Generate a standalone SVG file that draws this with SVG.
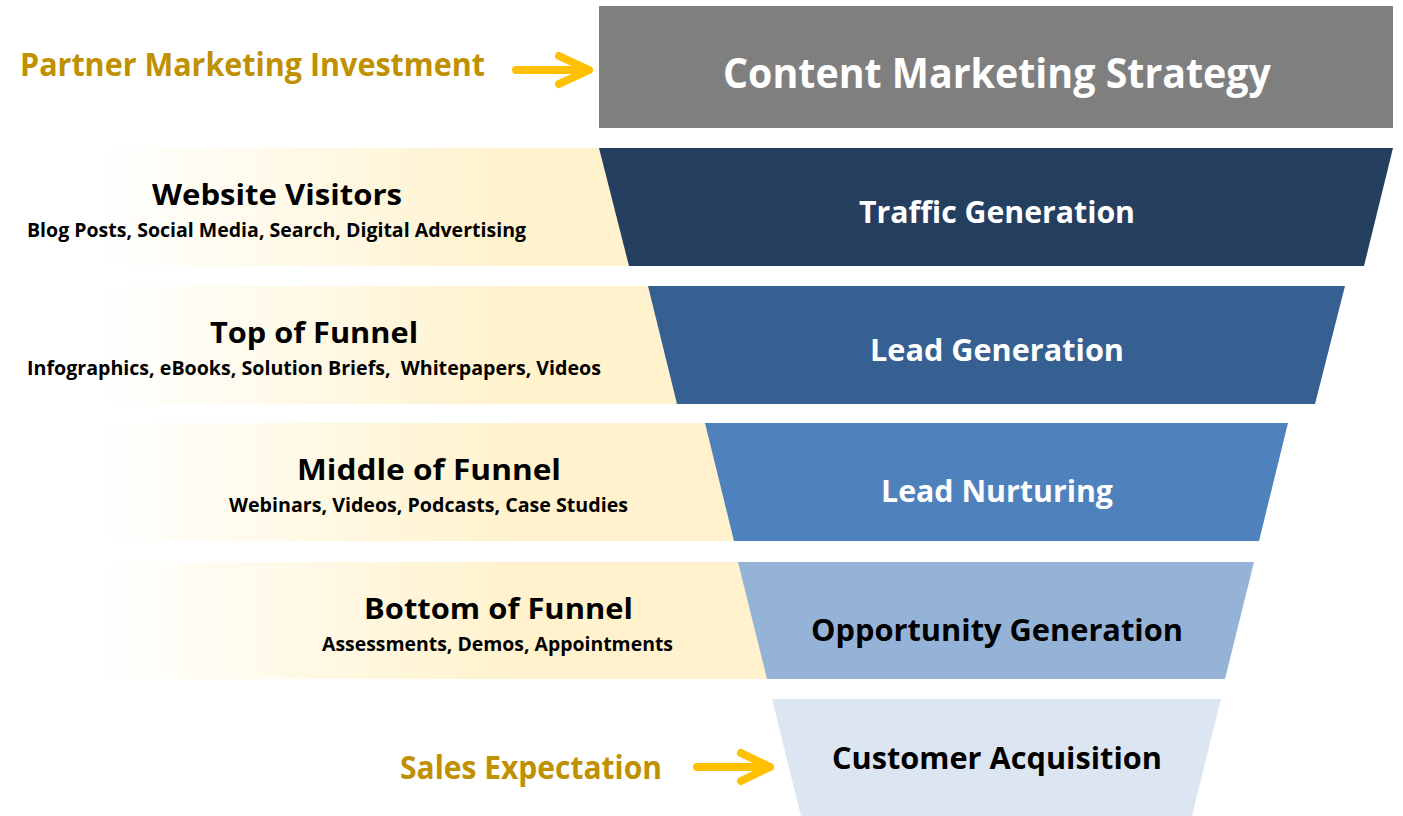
<svg xmlns="http://www.w3.org/2000/svg" width="1403" height="816" viewBox="0 0 1403 816">
<defs>
<linearGradient id="cream" gradientUnits="userSpaceOnUse" x1="100" y1="0" x2="520" y2="0">
<stop offset="0" stop-color="#FFFFFF"/>
<stop offset="1" stop-color="#FFF2CC"/>
</linearGradient>
</defs>
<style>
text{font-family:"Open Sans","Liberation Sans",sans-serif;font-weight:bold}
.gold{fill:#BF9000}
.wt{fill:#FFFFFF}
.bk{fill:#000000}
.band{fill:url(#cream)}
.arrow{fill:none;stroke:#FFC000;stroke-width:8;stroke-linecap:round;stroke-linejoin:round}
</style>
<rect width="1403" height="816" fill="#FFFFFF"/>
<g id="bands">
<rect class="band" x="100" y="148" width="560" height="118"/>
<rect class="band" x="100" y="286" width="600" height="118"/>
<rect class="band" x="100" y="423" width="660" height="118"/>
<rect class="band" x="100" y="562" width="690" height="117"/>
</g>
<g id="partner-investment">
<text class="gold" x="20" y="76" font-size="32" textLength="465" lengthAdjust="spacingAndGlyphs">Partner Marketing Investment</text>
</g>
<g id="content-strategy">
<rect x="599" y="6" width="794" height="122" fill="#7F7F7F"/>
<text class="wt" x="723" y="88" font-size="42" textLength="548" lengthAdjust="spacingAndGlyphs">Content Marketing Strategy</text>
</g>
<g id="traffic-generation">
<polygon points="599,148 1393,148 1364,266 629,266" fill="#243F60"/>
<text class="wt" x="859" y="223" font-size="31" textLength="276" lengthAdjust="spacingAndGlyphs">Traffic Generation</text>
</g>
<g id="website-visitors">
<text class="bk" x="152" y="205" font-size="28" textLength="250" lengthAdjust="spacingAndGlyphs">Website Visitors</text>
<text class="bk" x="27" y="237" font-size="19" textLength="499" lengthAdjust="spacingAndGlyphs">Blog Posts, Social Media, Search, Digital Advertising</text>
</g>
<g id="lead-generation">
<polygon points="648,286 1345,286 1315,404 677,404" fill="#366092"/>
<text class="wt" x="870" y="361" font-size="31" textLength="254" lengthAdjust="spacingAndGlyphs">Lead Generation</text>
</g>
<g id="top-of-funnel">
<text class="bk" x="210" y="343" font-size="28" textLength="208" lengthAdjust="spacingAndGlyphs">Top of Funnel</text>
<text class="bk" x="27" y="375" font-size="19" textLength="574" lengthAdjust="spacingAndGlyphs" xml:space="preserve" style="white-space:pre">Infographics, eBooks, Solution Briefs,  Whitepapers, Videos</text>
</g>
<g id="lead-nurturing">
<polygon points="705,423 1288,423 1259,541 734,541" fill="#4F81BD"/>
<text class="wt" x="881" y="502" font-size="31" textLength="232" lengthAdjust="spacingAndGlyphs">Lead Nurturing</text>
</g>
<g id="middle-of-funnel">
<text class="bk" x="297" y="480" font-size="28" textLength="264" lengthAdjust="spacingAndGlyphs">Middle of Funnel</text>
<text class="bk" x="229" y="512" font-size="19" textLength="399" lengthAdjust="spacingAndGlyphs">Webinars, Videos, Podcasts, Case Studies</text>
</g>
<g id="opportunity-generation">
<polygon points="738,562 1254,562 1225,679 767,679" fill="#95B3D7"/>
<text class="bk" x="811" y="641" font-size="31" textLength="372" lengthAdjust="spacingAndGlyphs">Opportunity Generation</text>
</g>
<g id="bottom-of-funnel">
<text class="bk" x="364" y="619" font-size="28" textLength="269" lengthAdjust="spacingAndGlyphs">Bottom of Funnel</text>
<text class="bk" x="322" y="651" font-size="19" textLength="351" lengthAdjust="spacingAndGlyphs">Assessments, Demos, Appointments</text>
</g>
<g id="customer-acquisition">
<polygon points="772,699 1221,699 1192,816 801,816" fill="#DCE6F2"/>
<text class="bk" x="832" y="769" font-size="31" textLength="330" lengthAdjust="spacingAndGlyphs">Customer Acquisition</text>
</g>
<g id="sales-expectation">
<text class="gold" x="400" y="779" font-size="32" textLength="262" lengthAdjust="spacingAndGlyphs">Sales Expectation</text>
</g>
<g id="connectors">
<path class="arrow" d="M516,70 H589 M559,56 L589,70 L559,84"/>
<path class="arrow" d="M697,767 H770 M741,753 L770,767 L741,781"/>
</g>
</svg>
